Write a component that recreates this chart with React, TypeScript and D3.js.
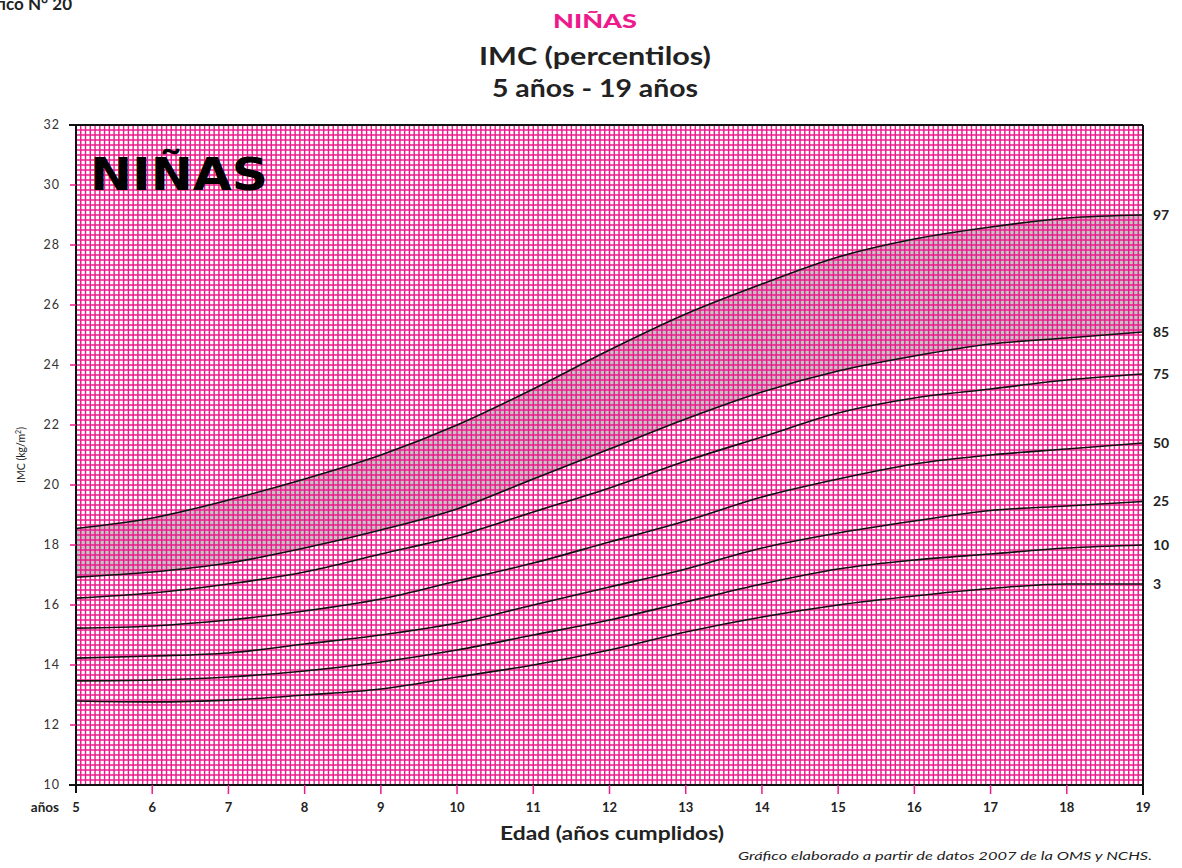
import * as d3 from "d3";

const AGES = [5, 6, 7, 8, 9, 10, 11, 12, 13, 14, 15, 16, 17, 18, 19];
const P3 = [12.8, 12.77, 12.83, 13.0, 13.2, 13.6, 14.0, 14.5, 15.1, 15.6, 16.0, 16.3, 16.55, 16.7, 16.7];
const P10 = [13.47, 13.5, 13.6, 13.8, 14.1, 14.5, 15.0, 15.5, 16.1, 16.7, 17.2, 17.5, 17.7, 17.9, 18.0];
const P25 = [14.23, 14.3, 14.4, 14.7, 15.0, 15.4, 16.0, 16.6, 17.2, 17.9, 18.4, 18.8, 19.15, 19.3, 19.45];
const P50 = [15.23, 15.3, 15.5, 15.8, 16.2, 16.8, 17.4, 18.1, 18.8, 19.6, 20.2, 20.7, 21.0, 21.2, 21.4];
const P75 = [16.23, 16.4, 16.7, 17.1, 17.7, 18.3, 19.1, 19.9, 20.8, 21.6, 22.4, 22.9, 23.2, 23.5, 23.7];
const P85 = [16.93, 17.1, 17.4, 17.9, 18.5, 19.2, 20.2, 21.2, 22.2, 23.1, 23.8, 24.3, 24.7, 24.9, 25.1];
const P97 = [18.55, 18.9, 19.5, 20.2, 21.0, 22.0, 23.2, 24.5, 25.7, 26.7, 27.6, 28.2, 28.6, 28.9, 29.0];

const SERIES = [
  { label: "3", values: P3 },
  { label: "10", values: P10 },
  { label: "25", values: P25 },
  { label: "50", values: P50 },
  { label: "75", values: P75 },
  { label: "85", values: P85 },
  { label: "97", values: P97 },
];

const Y_TICKS = [10, 12, 14, 16, 18, 20, 22, 24, 26, 28, 30, 32];
const X_TICKS = [5, 6, 7, 8, 9, 10, 11, 12, 13, 14, 15, 16, 17, 18, 19];

const PINK = "#ee1a8c";
const FONT = "Lato, 'Open Sans', sans-serif";

export default function App() {
  const W = 1182;
  const H = 868;
  const x = d3.scaleLinear().domain([5, 19]).range([76, 1143]);
  const y = d3.scaleLinear().domain([10, 32]).range([785, 125]);

  // fine grid: 16 per year, 6 per unit of IMC
  const vGrid = d3.range(0, 14 * 16 + 1).map((k) => 5 + k / 16);
  const hGrid = d3.range(0, 22 * 6 + 1).map((k) => 10 + k / 6);

  const line = d3
    .line<number>()
    .x((_, i) => x(AGES[i]))
    .y((d) => y(d))
    .curve(d3.curveMonotoneX);

  const band = d3
    .area<number>()
    .x((_, i) => x(AGES[i]))
    .y0((_, i) => y(P85[i]))
    .y1((d) => y(d))
    .curve(d3.curveMonotoneX);

  return (
    <svg
      width={W}
      height={H}
      style={{ position: "absolute", left: 0, top: 0, background: "#fff" }}
      fontFamily={FONT}
    >
      <rect width={W} height={H} fill="#fff" />
      <text x={72} y={10} textAnchor="end" fontSize={17} fontWeight={700} fill="#222">
        Gráfico N° 20
      </text>

      {/* titles */}
      <text x={595} y={28} textAnchor="middle" fontSize={19} fontWeight={900} fill={PINK}
        textLength={84} lengthAdjust="spacingAndGlyphs">
        NIÑAS
      </text>
      <text x={595} y={65} textAnchor="middle" fontSize={24} fontWeight={700} fill="#222"
        textLength={232} lengthAdjust="spacingAndGlyphs">
        IMC (percentilos)
      </text>
      <text x={595} y={97} textAnchor="middle" fontSize={24} fontWeight={700} fill="#222"
        textLength={206} lengthAdjust="spacingAndGlyphs">
        5 años - 19 años
      </text>

      {/* shaded band between P85 and P97 */}
      <path d={band(P97) || ""} fill="#c4c4c4" />

      {/* grid */}
      <g stroke={PINK} strokeWidth={1.45}>
        {vGrid.map((a, i) => (
          <line key={"v" + i} x1={x(a)} x2={x(a)} y1={y(32)} y2={y(10)} />
        ))}
        {hGrid.map((v, i) => (
          <line key={"h" + i} x1={x(5)} x2={x(19)} y1={y(v)} y2={y(v)} />
        ))}
      </g>

      {/* big label */}
      <text
        x={90}
        y={190}
        fontSize={44}
        fontWeight={900}
        fill="#000"
        fontFamily="'DejaVu Sans', sans-serif"
        textLength={178}
        lengthAdjust="spacingAndGlyphs"
      >
        NIÑAS
      </text>

      {/* percentile curves */}
      {SERIES.map((s) => (
        <path key={s.label} d={line(s.values) || ""} fill="none" stroke="#111" strokeWidth={1.6} />
      ))}
      {SERIES.map((s) => (
        <text
          key={"l" + s.label}
          x={1153}
          y={y(s.values[s.values.length - 1])}
          dy="0.35em"
          fontSize={14}
          fontWeight={700}
          fill="#222"
        >
          {s.label}
        </text>
      ))}

      {/* frame / axes */}
      <g stroke="#111" strokeWidth={2}>
        <line x1={69} x2={x(19)} y1={y(32)} y2={y(32)} />
        <line x1={69} x2={x(19)} y1={y(10)} y2={y(10)} />
        <line x1={x(5)} x2={x(5)} y1={y(32)} y2={y(10) + 8} />
        <line x1={x(19)} x2={x(19)} y1={y(32)} y2={y(10) + 10} />
      </g>

      {/* y axis */}
      {Y_TICKS.map((t) => (
        <g key={"yt" + t}>
          {t !== 10 && t !== 32 && (
            <line x1={70} x2={x(5)} y1={y(t)} y2={y(t)} stroke={PINK} strokeWidth={1.5} />
          )}
          <text x={60} y={y(t)} dy="0.35em" textAnchor="end" fontSize={12.5} fill="#333" letterSpacing={1}>
            {t}
          </text>
        </g>
      ))}
      <text
        transform={`translate(25,${y(21)}) rotate(-90)`}
        textAnchor="middle"
        fontSize={10.5}
        fill="#222"
      >
        IMC (kg/m<tspan dy={-4} fontSize={7}>2</tspan>
        <tspan dy={4}>)</tspan>
      </text>

      {/* x axis */}
      {X_TICKS.map((t) => (
        <g key={"xt" + t}>
          {t !== 5 && t !== 19 && (
            <line x1={x(t)} x2={x(t)} y1={y(10)} y2={y(10) + 9} stroke={PINK} strokeWidth={1.5} />
          )}
          <text x={x(t)} y={y(10) + 27} textAnchor="middle" fontSize={13} fontWeight={700} fill="#222">
            {t}
          </text>
        </g>
      ))}
      <text x={59} y={y(10) + 27} textAnchor="end" fontSize={13.5} fontWeight={700} fill="#222">
        años
      </text>
      <text x={612} y={840} textAnchor="middle" fontSize={19} fontWeight={700} fill="#222"
        textLength={224} lengthAdjust="spacingAndGlyphs">
        Edad (años cumplidos)
      </text>
      <text x={1152} y={860} textAnchor="end" fontSize={12} fontStyle="italic" fill="#222"
        textLength={414} lengthAdjust="spacingAndGlyphs">
        Gráfico elaborado a partir de datos 2007 de la OMS y NCHS.
      </text>
    </svg>
  );
}
